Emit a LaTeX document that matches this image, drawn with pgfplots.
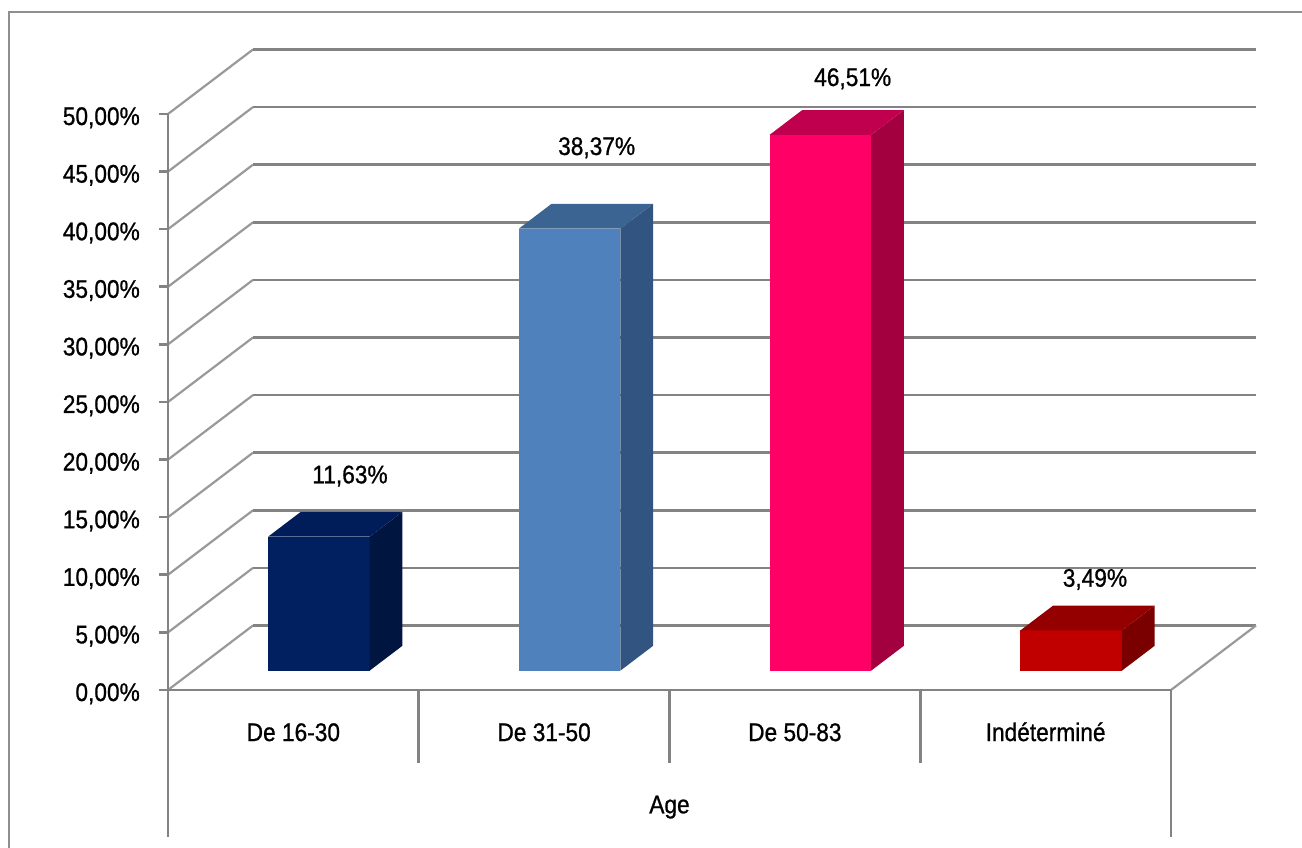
\documentclass[border=0pt]{standalone}
\usepackage{pgfplots}
\pgfplotsset{compat=1.18}
\usepackage{graphicx}
\usepackage{fontspec}
\setmainfont{Liberation Sans}
\newfontfamily\lblfont{Liberation Sans}[FakeBold=0.9]

% face colours: front / side / top
\definecolor{navyF}{HTML}{002060}
\definecolor{navyS}{HTML}{001540}
\definecolor{navyT}{HTML}{001D5A}
\definecolor{blueF}{HTML}{4F81BD}
\definecolor{blueS}{HTML}{325480}
\definecolor{blueT}{HTML}{3C6493}
\definecolor{pinkF}{HTML}{FF0066}
\definecolor{pinkS}{HTML}{A3003F}
\definecolor{pinkT}{HTML}{C0004E}
\definecolor{redF}{HTML}{C00000}
\definecolor{redS}{HTML}{7A0000}
\definecolor{redT}{HTML}{940000}
\definecolor{gridgray}{HTML}{838383}
\definecolor{diaggray}{HTML}{999999}

\newcommand\lbl[1]{\scalebox{0.89}[1]{#1}}

% a column: #1 left x, #2 right x, #3 value, #4 front, #5 side, #6 top
% the column stands between depth 0.30 and 0.685
\newcommand\column[6]{%
  \addplot3[fill=#4, draw=none] coordinates
    {(#1,0.30,0) (#2,0.30,0) (#2,0.30,#3) (#1,0.30,#3)};
  \addplot3[fill=#5, draw=none] coordinates
    {(#2,0.30,0) (#2,0.685,0) (#2,0.685,#3) (#2,0.30,#3)};
  \addplot3[fill=#6, draw=none] coordinates
    {(#1,0.30,#3) (#2,0.30,#3) (#2,0.685,#3) (#1,0.685,#3)};
}

\begin{document}
\begin{tikzpicture}[
  txt/.style={font=\lblfont\fontsize{25.5}{30}\selectfont, inner sep=0pt, text=black},
  gridline/.style={draw=gridgray, line width=2.6pt},
  diagline/.style={draw=diaggray, line width=2.2pt},
  axline/.style={draw=gridgray, line width=2.6pt},
]
\begin{axis}[
  x={(250.75pt,0pt)}, y={(85pt,64.5pt)}, z={(0pt,11.52pt)},
  xmin=0, xmax=4, ymin=0, ymax=1, zmin=0, zmax=50,
  hide axis, clip=false,
]
% outer frame and page extent
\coordinate (BL) at (axis cs:-0.66999,0,-13.7153);
\coordinate (TR) at (axis cs:4.52243,0,59.8958);
\draw[draw=gridgray!90!white, line width=2.2pt]
  (axis cs:-0.6329,0,-14) -- (axis cs:-0.6329,0,58.83) -- (axis cs:4.6,0,58.83);

% walls: side-wall diagonals and back-wall gridlines, ticks and tick labels
\pgfplotsinvokeforeach{0,5,...,50}{
  \draw[diagline] (axis cs:0,0,#1) -- (axis cs:0,1,#1);
  \draw[gridline] (axis cs:0,1,#1) -- (axis cs:4,1,#1);
  \draw[axline] (axis cs:-0.036,0,#1) -- (axis cs:0,0,#1);
  \node[txt, anchor=base east, xshift=-28pt, yshift=-11pt] at (axis cs:0,0,#1)
    {\lbl{\pgfmathprintnumber[fixed,fixed zerofill,precision=2,use comma,assume math mode=true]{#1}\%}};
}
% floor right edge
\draw[diagline] (axis cs:4,0,0) -- (axis cs:4,1,0);

% columns
\column{0.2975}{0.7025}{11.63}{navyF}{navyS}{navyT}
\column{1.2975}{1.7025}{38.37}{blueF}{blueS}{blueT}
\column{2.2975}{2.7025}{46.51}{pinkF}{pinkS}{pinkT}
\column{3.2975}{3.7025}{3.49}{redF}{redS}{redT}

% value labels
\node[txt, anchor=base, xshift=-1.6pt, yshift=28.5pt] at (axis cs:0.5,0.685,11.63) {\lbl{11,63\%}};
\node[txt, anchor=base, xshift=-5.7pt, yshift=48.8pt] at (axis cs:1.5,0.685,38.37) {\lbl{38,37\%}};
\node[txt, anchor=base, xshift=-0.4pt, yshift=24pt] at (axis cs:2.5,0.685,46.51) {\lbl{46,51\%}};
\node[txt, anchor=base, xshift=-8.9pt, yshift=18.9pt] at (axis cs:3.5,0.685,3.49) {\lbl{3,49\%}};

% front axes
\draw[axline] (axis cs:0,0,50) -- (axis cs:0,0,0) -- (axis cs:4,0,0);
\draw[axline] (axis cs:0,0,0) -- (axis cs:0,0,-12.76);
\draw[axline] (axis cs:4,0,0) -- (axis cs:4,0,-12.76);
\draw[axline] (axis cs:1,0,0) -- (axis cs:1,0,-6.34);
\draw[axline] (axis cs:2,0,0) -- (axis cs:2,0,-6.34);
\draw[axline] (axis cs:3,0,0) -- (axis cs:3,0,-6.34);

% category labels
\node[txt, anchor=base] at (axis cs:0.5,0,-4.43) {\lbl{De 16-30}};
\node[txt, anchor=base] at (axis cs:1.5,0,-4.43) {\lbl{De 31-50}};
\node[txt, anchor=base] at (axis cs:2.5,0,-4.43) {\lbl{De 50-83}};
\node[txt, anchor=base] at (axis cs:3.5,0,-4.43) {\lbl{Indéterminé}};
\node[txt, anchor=base] at (axis cs:2,0,-10.7) {\lbl{Age}};
\end{axis}
\pgfresetboundingbox
\path[use as bounding box] (BL) rectangle (TR);
\end{tikzpicture}
\end{document}
